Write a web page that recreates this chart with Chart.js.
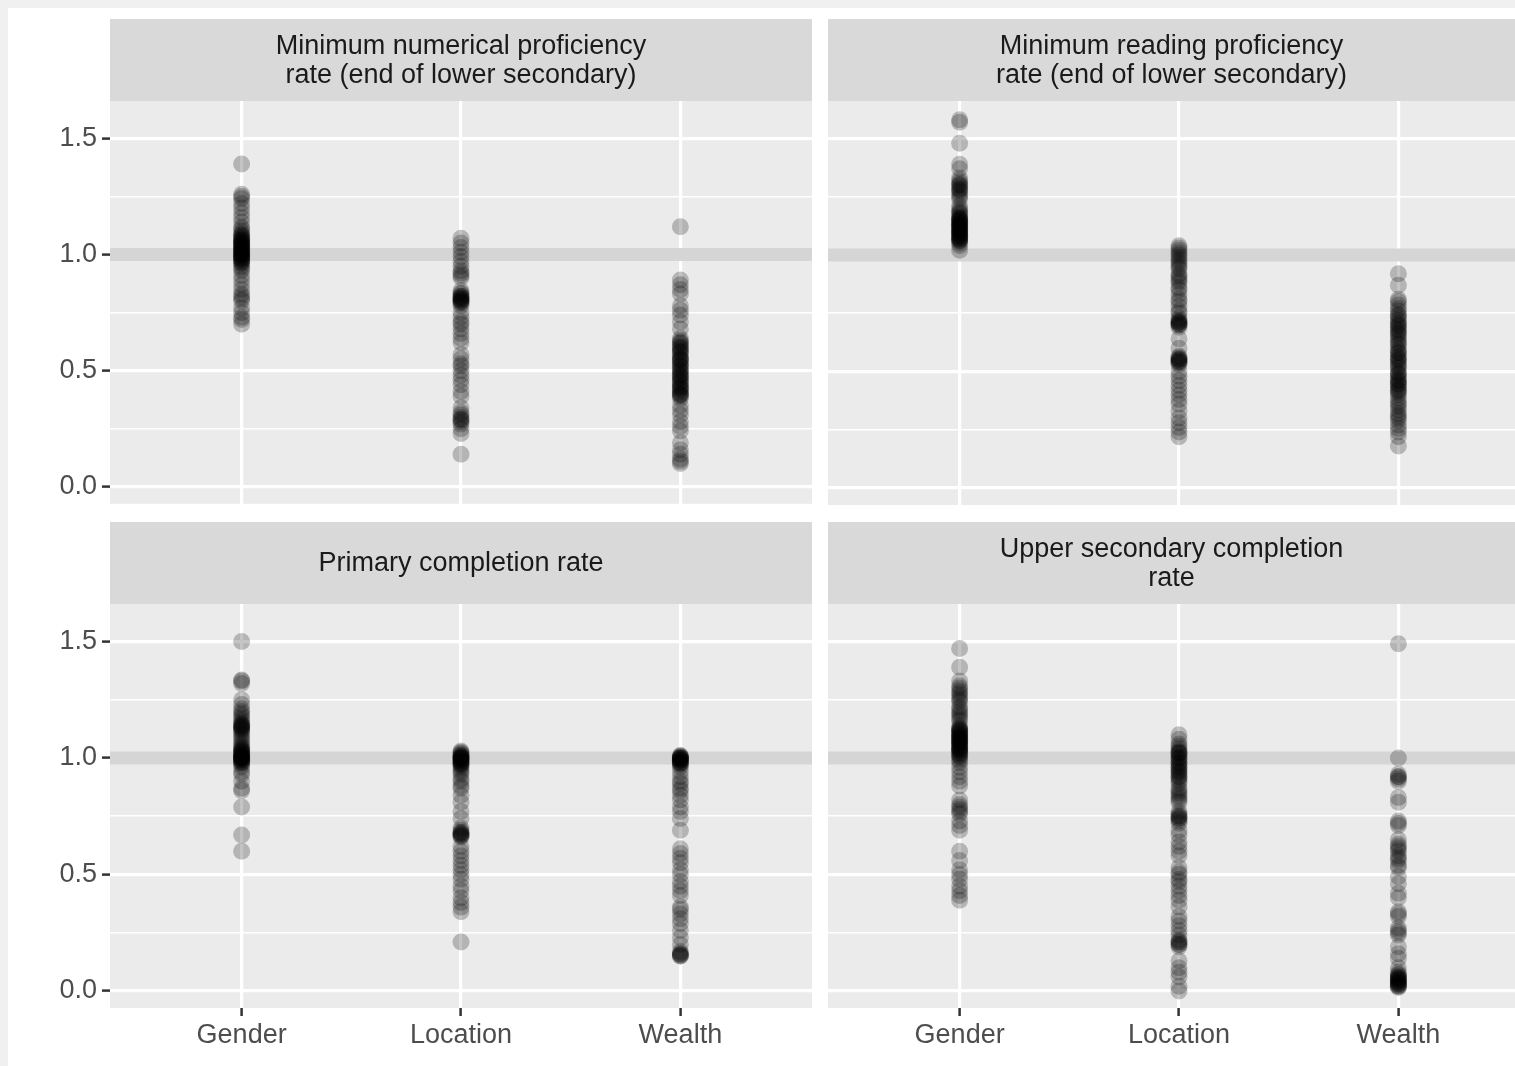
<!DOCTYPE html>
<html>
<head>
<meta charset="utf-8">
<script src="https://cdn.jsdelivr.net/npm/chart.js@4/dist/chart.umd.min.js"></script>
<style>
  html, body { margin: 0; padding: 0; background: #f0f0f0; overflow: hidden; width: 1515px; height: 1066px; }
  #sheet { position: absolute; left: 8px; top: 8px; width: 1507px; height: 1058px; background: #ffffff; }
  canvas.panel { position: absolute; }
</style>
</head>
<body>
<div id="sheet"></div>
<canvas id="p0" class="panel"></canvas>
<canvas id="p1" class="panel"></canvas>
<canvas id="p2" class="panel"></canvas>
<canvas id="p3" class="panel"></canvas>
<script>
// Disaggregation dimensions shown on the x axis
const categories = ['Gender', 'Location', 'Wealth'];

// Facet titles (one entry per text line)
const panelTitles = [
  ['Minimum numerical proficiency', 'rate (end of lower secondary)'],
  ['Minimum reading proficiency', 'rate (end of lower secondary)'],
  ['Primary completion rate'],
  ['Upper secondary completion', 'rate']
];

// Y axis ticks (major ones get labels) and the parity reference value
const yTicks = [0, 0.25, 0.5, 0.75, 1, 1.25, 1.5];
const yMajor = [0, 0.5, 1, 1.5];
const parityValue = 1;

// Parity index values per country
const numeracyGender = [1.39, 1.26, 1.25, 1.24, 1.22, 1.20, 1.18, 1.16, 1.14, 1.12, 1.11, 1.10, 1.09, 1.085, 1.08, 1.075, 1.07, 1.065, 1.06, 1.06, 1.055, 1.05, 1.05, 1.045, 1.04, 1.04, 1.035, 1.03, 1.03, 1.025, 1.02, 1.02, 1.015, 1.01, 1.01, 1.005, 1.00, 1.00, 1.00, 0.995, 0.99, 0.99, 0.985, 0.98, 0.98, 0.975, 0.97, 0.965, 0.96, 0.95, 0.94, 0.93, 0.91, 0.89, 0.87, 0.85, 0.83, 0.82, 0.81, 0.80, 0.77, 0.75, 0.73, 0.72, 0.70];
const numeracyLocation = [1.07, 1.05, 1.03, 1.01, 0.99, 0.97, 0.95, 0.93, 0.92, 0.91, 0.90, 0.845, 0.835, 0.83, 0.82, 0.82, 0.815, 0.81, 0.81, 0.805, 0.80, 0.80, 0.795, 0.79, 0.78, 0.75, 0.73, 0.71, 0.70, 0.68, 0.66, 0.64, 0.62, 0.57, 0.55, 0.53, 0.52, 0.50, 0.48, 0.46, 0.44, 0.41, 0.39, 0.34, 0.32, 0.31, 0.30, 0.29, 0.29, 0.28, 0.27, 0.25, 0.23, 0.14];
const numeracyWealth = [1.12, 0.89, 0.87, 0.85, 0.83, 0.78, 0.76, 0.74, 0.71, 0.68, 0.64, 0.63, 0.62, 0.62, 0.61, 0.60, 0.60, 0.59, 0.58, 0.58, 0.57, 0.56, 0.55, 0.55, 0.545, 0.54, 0.53, 0.52, 0.52, 0.51, 0.50, 0.50, 0.49, 0.48, 0.48, 0.47, 0.47, 0.46, 0.45, 0.45, 0.44, 0.43, 0.43, 0.42, 0.42, 0.41, 0.40, 0.40, 0.395, 0.39, 0.38, 0.35, 0.33, 0.31, 0.28, 0.26, 0.24, 0.19, 0.16, 0.14, 0.12, 0.11, 0.10];

const readingGender = [1.58, 1.57, 1.48, 1.39, 1.37, 1.33, 1.32, 1.31, 1.30, 1.30, 1.29, 1.28, 1.28, 1.27, 1.26, 1.25, 1.24, 1.21, 1.20, 1.19, 1.18, 1.18, 1.17, 1.16, 1.16, 1.155, 1.15, 1.15, 1.145, 1.14, 1.14, 1.135, 1.13, 1.13, 1.125, 1.12, 1.12, 1.115, 1.11, 1.11, 1.105, 1.10, 1.10, 1.095, 1.09, 1.09, 1.085, 1.08, 1.08, 1.075, 1.07, 1.07, 1.065, 1.06, 1.06, 1.05, 1.04, 1.02];
const readingLocation = [1.04, 1.03, 1.02, 1.01, 1.00, 0.99, 0.98, 0.97, 0.96, 0.95, 0.94, 0.92, 0.91, 0.90, 0.89, 0.88, 0.86, 0.85, 0.83, 0.81, 0.80, 0.78, 0.76, 0.75, 0.73, 0.72, 0.715, 0.71, 0.71, 0.705, 0.70, 0.70, 0.69, 0.64, 0.60, 0.565, 0.56, 0.555, 0.55, 0.55, 0.545, 0.54, 0.54, 0.53, 0.50, 0.48, 0.46, 0.44, 0.42, 0.40, 0.38, 0.36, 0.33, 0.30, 0.28, 0.26, 0.24, 0.22];
const readingWealth = [0.92, 0.87, 0.81, 0.80, 0.785, 0.77, 0.76, 0.745, 0.74, 0.73, 0.72, 0.71, 0.70, 0.70, 0.69, 0.68, 0.675, 0.665, 0.66, 0.65, 0.64, 0.63, 0.62, 0.615, 0.60, 0.59, 0.58, 0.58, 0.565, 0.56, 0.55, 0.55, 0.54, 0.53, 0.52, 0.515, 0.50, 0.49, 0.49, 0.48, 0.47, 0.46, 0.46, 0.45, 0.445, 0.44, 0.43, 0.42, 0.42, 0.41, 0.40, 0.385, 0.37, 0.36, 0.35, 0.335, 0.32, 0.31, 0.30, 0.29, 0.27, 0.255, 0.24, 0.22, 0.18];

const primaryGender = [1.50, 1.335, 1.33, 1.32, 1.25, 1.23, 1.21, 1.20, 1.19, 1.18, 1.17, 1.16, 1.15, 1.145, 1.14, 1.14, 1.135, 1.13, 1.13, 1.12, 1.12, 1.11, 1.10, 1.09, 1.08, 1.07, 1.06, 1.05, 1.045, 1.04, 1.035, 1.03, 1.03, 1.025, 1.02, 1.02, 1.015, 1.01, 1.01, 1.005, 1.00, 1.00, 1.00, 1.00, 1.00, 0.995, 0.99, 0.99, 0.985, 0.98, 0.98, 0.97, 0.96, 0.94, 0.93, 0.90, 0.87, 0.86, 0.79, 0.67, 0.60];
const primaryLocation = [1.03, 1.025, 1.02, 1.015, 1.01, 1.01, 1.005, 1.00, 1.00, 1.00, 1.00, 0.995, 0.99, 0.99, 0.985, 0.98, 0.98, 0.975, 0.97, 0.97, 0.96, 0.95, 0.94, 0.93, 0.91, 0.90, 0.88, 0.87, 0.84, 0.81, 0.77, 0.74, 0.70, 0.69, 0.68, 0.68, 0.675, 0.67, 0.67, 0.665, 0.66, 0.62, 0.60, 0.58, 0.56, 0.54, 0.52, 0.50, 0.48, 0.45, 0.43, 0.40, 0.38, 0.36, 0.34, 0.21];
const primaryWealth = [1.01, 1.01, 1.005, 1.00, 1.00, 1.00, 1.00, 0.995, 0.99, 0.99, 0.99, 0.985, 0.98, 0.98, 0.975, 0.97, 0.96, 0.94, 0.92, 0.90, 0.89, 0.87, 0.86, 0.84, 0.82, 0.79, 0.77, 0.74, 0.69, 0.61, 0.59, 0.57, 0.55, 0.52, 0.50, 0.47, 0.45, 0.43, 0.41, 0.36, 0.35, 0.33, 0.31, 0.29, 0.26, 0.23, 0.20, 0.17, 0.16, 0.16, 0.155, 0.15, 0.15];

const upperGender = [1.47, 1.39, 1.33, 1.31, 1.30, 1.29, 1.28, 1.27, 1.26, 1.25, 1.24, 1.22, 1.21, 1.20, 1.19, 1.18, 1.17, 1.16, 1.14, 1.13, 1.125, 1.12, 1.12, 1.115, 1.11, 1.11, 1.10, 1.10, 1.095, 1.09, 1.09, 1.085, 1.08, 1.08, 1.075, 1.07, 1.07, 1.065, 1.06, 1.06, 1.05, 1.05, 1.045, 1.04, 1.04, 1.035, 1.03, 1.03, 1.02, 1.02, 1.01, 1.01, 1.00, 0.99, 0.98, 0.96, 0.94, 0.92, 0.90, 0.88, 0.82, 0.80, 0.79, 0.78, 0.77, 0.76, 0.73, 0.71, 0.69, 0.60, 0.56, 0.52, 0.50, 0.48, 0.45, 0.43, 0.41, 0.39];
const upperLocation = [1.10, 1.08, 1.06, 1.05, 1.04, 1.03, 1.025, 1.02, 1.02, 1.01, 1.00, 1.00, 0.99, 0.98, 0.98, 0.97, 0.96, 0.96, 0.95, 0.94, 0.94, 0.93, 0.92, 0.92, 0.91, 0.90, 0.89, 0.87, 0.86, 0.85, 0.84, 0.83, 0.82, 0.81, 0.77, 0.76, 0.75, 0.75, 0.74, 0.74, 0.73, 0.72, 0.69, 0.67, 0.64, 0.62, 0.60, 0.58, 0.53, 0.51, 0.50, 0.48, 0.47, 0.45, 0.43, 0.41, 0.39, 0.36, 0.32, 0.30, 0.28, 0.26, 0.24, 0.22, 0.21, 0.21, 0.20, 0.20, 0.19, 0.13, 0.10, 0.08, 0.06, 0.02, 0.00];
const upperWealth = [1.49, 1.00, 0.93, 0.92, 0.92, 0.91, 0.90, 0.83, 0.81, 0.73, 0.72, 0.71, 0.65, 0.63, 0.62, 0.61, 0.60, 0.58, 0.57, 0.56, 0.54, 0.53, 0.49, 0.46, 0.42, 0.40, 0.34, 0.33, 0.32, 0.27, 0.26, 0.25, 0.24, 0.19, 0.16, 0.14, 0.10, 0.08, 0.07, 0.07, 0.06, 0.06, 0.055, 0.05, 0.05, 0.045, 0.04, 0.04, 0.035, 0.03, 0.03, 0.025, 0.02, 0.02, 0.015];

const panelSeries = [
  [numeracyGender, numeracyLocation, numeracyWealth],
  [readingGender, readingLocation, readingWealth],
  [primaryGender, primaryLocation, primaryWealth],
  [upperGender, upperLocation, upperWealth]
];

// ---- layout of the 2 x 2 facet grid ----
const FONT = '"Liberation Sans", Arial, sans-serif';
const FONT_SIZE = 27;
const Y_MIN = -0.073, Y_MAX = 1.661;
const X_MIN = 0.4;
const columns = [
  { left: 10, width: 802, axisWidth: 100, xMax: 3.6 },
  { left: 828, width: 687, axisWidth: 0, xMax: 3.5316 }
];
const rows = [
  { top: 19, height: 506, strip: 82, bottomPad: 20, axisHeight: 0, labels: false },
  { top: 522, height: 544, strip: 82, bottomPad: 0, axisHeight: 58, labels: true }
];

// Panel background and facet strip
const facetPlugin = {
  id: 'facet',
  beforeDraw(chart, args, opts) {
    const { ctx, chartArea: a } = chart;
    ctx.save();
    ctx.fillStyle = '#ebebeb';
    ctx.fillRect(a.left, a.top, a.right - a.left, a.bottom - a.top);
    ctx.fillStyle = '#d9d9d9';
    ctx.fillRect(a.left, 0, a.right - a.left, a.top);
    ctx.fillStyle = '#1a1a1a';
    ctx.font = FONT_SIZE + 'px ' + FONT;
    ctx.textAlign = 'center';
    ctx.textBaseline = 'middle';
    const lines = opts.title;
    const lh = 29;
    const cx = (a.left + a.right) / 2;
    const cy = a.top / 2 + 1;
    lines.forEach((t, i) => {
      ctx.fillText(t, cx, cy + (i - (lines.length - 1) / 2) * lh);
    });
    ctx.restore();
  }
};

const isMajor = v => yMajor.some(m => Math.abs(m - v) < 1e-9);

function buildPanel(idx) {
  const col = columns[idx % 2];
  const row = rows[Math.floor(idx / 2)];
  const canvas = document.getElementById('p' + idx);
  canvas.width = col.width;
  canvas.height = row.height;
  canvas.style.left = col.left + 'px';
  canvas.style.top = row.top + 'px';
  canvas.style.width = col.width + 'px';
  canvas.style.height = row.height + 'px';

  const points = [];
  panelSeries[idx].forEach((vals, ci) => {
    vals.forEach(v => points.push({ x: ci + 1, y: v }));
  });

  const showY = col.axisWidth > 0;

  return new Chart(canvas, {
    type: 'scatter',
    data: {
      datasets: [
        {
          type: 'scatter',
          data: points,
          backgroundColor: 'rgba(0,0,0,0.23)',
          pointRadius: 8.5,
          pointHoverRadius: 8.5,
          pointBorderWidth: 0,
          borderWidth: 0,
          order: 0
        },
        {
          type: 'line',
          data: [{ x: X_MIN, y: parityValue }, { x: col.xMax, y: parityValue }],
          borderColor: '#d5d5d5',
          borderWidth: 13,
          pointRadius: 0,
          pointHoverRadius: 0,
          fill: false,
          tension: 0,
          clip: 0,
          order: 1
        }
      ]
    },
    options: {
      responsive: false,
      animation: false,
      events: [],
      layout: { autoPadding: false, padding: { top: row.strip, bottom: row.bottomPad, left: 0, right: 0 } },
      plugins: {
        legend: { display: false },
        tooltip: { enabled: false },
        facet: { title: panelTitles[idx] }
      },
      scales: {
        x: {
          type: 'linear',
          min: X_MIN,
          max: col.xMax,
          border: { display: false },
          afterBuildTicks: s => { s.ticks = categories.map((c, i) => ({ value: i + 1 })); },
          afterFit: s => { s.height = row.axisHeight; },
          grid: {
            color: '#ffffff',
            lineWidth: 3.2,
            drawTicks: row.labels,
            tickLength: 8,
            tickColor: '#333333',
            tickWidth: 2.5
          },
          ticks: {
            display: row.labels,
            autoSkip: false,
            maxRotation: 0,
            padding: 3,
            color: '#4d4d4d',
            font: { family: FONT, size: FONT_SIZE },
            callback: v => categories[Math.round(v) - 1]
          }
        },
        y: {
          type: 'linear',
          min: Y_MIN,
          max: Y_MAX,
          border: { display: false },
          afterBuildTicks: s => { s.ticks = yTicks.map(v => ({ value: v })); },
          afterFit: s => { s.width = col.axisWidth; },
          grid: {
            color: '#ffffff',
            lineWidth: c => (c.tick && isMajor(c.tick.value)) ? 3.2 : 1.6,
            drawTicks: showY,
            tickLength: 8,
            tickColor: c => (c.tick && isMajor(c.tick.value)) ? '#333333' : 'rgba(0,0,0,0)',
            tickWidth: 2.5
          },
          ticks: {
            display: showY,
            autoSkip: false,
            padding: 5,
            color: '#4d4d4d',
            font: { family: FONT, size: FONT_SIZE },
            callback: v => isMajor(v) ? v.toFixed(1) : ''
          }
        }
      }
    },
    plugins: [facetPlugin]
  });
}

[0, 1, 2, 3].forEach(buildPanel);
</script>
</body>
</html>
